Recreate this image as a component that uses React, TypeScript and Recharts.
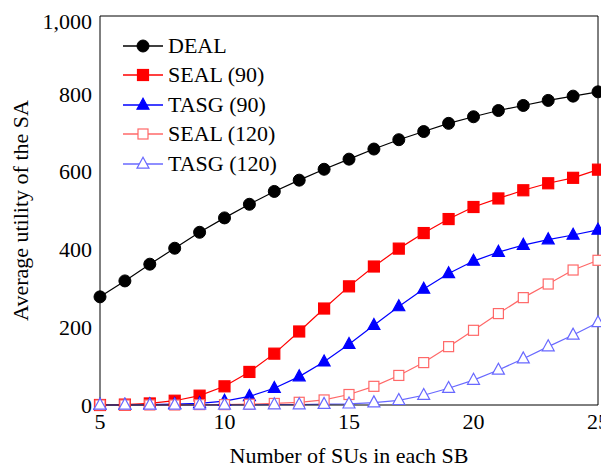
import { LineChart, Line, XAxis, YAxis } from 'recharts'

// number of SUs in each SB
const suCounts = [5, 6, 7, 8, 9, 10, 11, 12, 13, 14, 15, 16, 17, 18, 19, 20, 21, 22, 23, 24, 25]

// average utility of the SA, one list per scheme
const deal = [278, 319, 362, 403, 444, 481, 516, 549, 578, 606, 632, 658, 682, 703, 724, 741, 757, 770, 783, 794, 805]
const seal90 = [0, 1, 4, 11, 24, 48, 85, 132, 189, 248, 305, 356, 402, 442, 478, 509, 531, 552, 570, 584, 605]
const tasg90 = [0, 0, 1, 2, 4, 10, 22, 43, 73, 111, 156, 205, 253, 298, 338, 370, 393, 411, 425, 437, 450]
const seal120 = [0, 0, 0, 0, 1, 1, 2, 4, 7, 13, 27, 48, 76, 109, 150, 192, 235, 276, 311, 347, 372]
const tasg120 = [0, 0, 0, 0, 0, 0, 0, 1, 1, 2, 3, 6, 12, 25, 43, 64, 90, 119, 150, 180, 212]

const xTicks = [5, 10, 15, 20, 25]
const yTicks = [0, 200, 400, 600, 800, 1000]

const seriesNames = ['DEAL', 'SEAL (90)', 'TASG (90)', 'SEAL (120)', 'TASG (120)']

const data = suCounts.map((n, i) => ({
  n,
  deal: deal[i],
  seal90: seal90[i],
  tasg90: tasg90[i],
  seal120: seal120[i],
  tasg120: tasg120[i],
}))

type Shape = 'circle' | 'square' | 'triangle'

const styles: { key: string; color: string; shape: Shape; filled: boolean }[] = [
  { key: 'deal', color: '#000000', shape: 'circle', filled: true },
  { key: 'seal90', color: '#ff0000', shape: 'square', filled: true },
  { key: 'tasg90', color: '#0000ff', shape: 'triangle', filled: true },
  { key: 'seal120', color: '#ff6868', shape: 'square', filled: false },
  { key: 'tasg120', color: '#6868ff', shape: 'triangle', filled: false },
]

// Liberation Serif above 22px came out sans in the sandbox, keep it at 22
const FONT = 'Liberation Serif'
const FONT_SIZE = 22

function Marker({ cx, cy, shape, color, filled }: { cx: number; cy: number; shape: Shape; color: string; filled: boolean }) {
  const fill = filled ? color : '#ffffff'
  if (shape === 'circle') {
    return <circle cx={cx} cy={cy} r={6} fill={fill} stroke={color} strokeWidth={1} />
  }
  if (shape === 'square') {
    const s = filled ? 11 : 10
    return <rect x={cx - s / 2} y={cy - s / 2} width={s} height={s} fill={fill} stroke={color} strokeWidth={1.2} />
  }
  const h = 11
  const w = 12
  return (
    <polygon
      points={`${cx},${cy - h * 0.62} ${cx - w / 2},${cy + h * 0.38} ${cx + w / 2},${cy + h * 0.38}`}
      fill={fill}
      stroke={color}
      strokeWidth={1.2}
    />
  )
}

function ChartLegend() {
  return (
    <div style={{ position: 'absolute', left: 115, top: 23, fontFamily: FONT, fontSize: FONT_SIZE }}>
      {styles.map((s, i) => (
        <div key={s.key} style={{ display: 'flex', alignItems: 'center', height: 29.5 }}>
          <svg width={45} height={20}>
            <line x1={0} y1={10} x2={40} y2={10} stroke={s.color} strokeWidth={1.3} />
            <Marker cx={20} cy={10} shape={s.shape} color={s.color} filled={s.filled} />
          </svg>
          <span style={{ lineHeight: '20px' }}>{seriesNames[i]}</span>
        </div>
      ))}
    </div>
  )
}

const tickStyle = { fontFamily: FONT, fontSize: FONT_SIZE, fill: '#000' }

export default function App() {
  return (
    <div style={{ position: 'relative', width: 601, height: 462, fontFamily: FONT }}>
      <LineChart width={601} height={462} data={data} margin={{ top: 8, right: 11, left: 0, bottom: 0 }}>
        <XAxis
          xAxisId="main"
          dataKey="n"
          type="number"
          domain={[5, 25]}
          ticks={xTicks}
          height={65}
          tickLine={false}
          tickSize={0}
          tickMargin={8}
          axisLine={{ stroke: '#000', strokeWidth: 1 }}
          tick={tickStyle}
          label={{ value: 'Number of SUs in each SB', position: 'insideBottom', offset: 7, style: tickStyle }}
        />
        <XAxis xAxisId="bm" dataKey="n" type="number" domain={[5, 25]} ticks={xTicks} mirror tick={false} tickSize={7} axisLine={false} stroke="#000" />
        <XAxis xAxisId="tm" orientation="top" dataKey="n" type="number" domain={[5, 25]} ticks={xTicks} mirror tick={false} tickSize={7} axisLine={{ stroke: '#000' }} stroke="#000" />
        <YAxis
          yAxisId="main"
          type="number"
          domain={[0, 1000]}
          ticks={yTicks}
          width={92}
          tickLine={false}
          tickSize={0}
          tickMargin={8}
          axisLine={{ stroke: '#000', strokeWidth: 1 }}
          tick={tickStyle}
          tickFormatter={(v: number) => v.toLocaleString('en-US')}
          label={{ value: 'Average utility of the SA', angle: -90, position: 'insideLeft', offset: 12, style: { ...tickStyle, textAnchor: 'middle' } }}
        />
        <YAxis yAxisId="lm" type="number" domain={[0, 1000]} ticks={yTicks} mirror tick={false} tickSize={7} axisLine={false} stroke="#000" />
        <YAxis yAxisId="rm" orientation="right" type="number" domain={[0, 1000]} ticks={yTicks} mirror tick={false} tickSize={7} axisLine={{ stroke: '#000' }} stroke="#000" />
        {styles.map((s, i) => (
          <Line
            key={s.key}
            xAxisId="main"
            yAxisId="main"
            dataKey={s.key}
            name={seriesNames[i]}
            type="linear"
            stroke={s.color}
            strokeWidth={1.2}
            isAnimationActive={false}
            dot={(p: any) => <Marker key={`${s.key}-${p.index}`} cx={p.cx} cy={p.cy} shape={s.shape} color={s.color} filled={s.filled} />}
          />
        ))}
      </LineChart>
      <ChartLegend />
    </div>
  )
}
